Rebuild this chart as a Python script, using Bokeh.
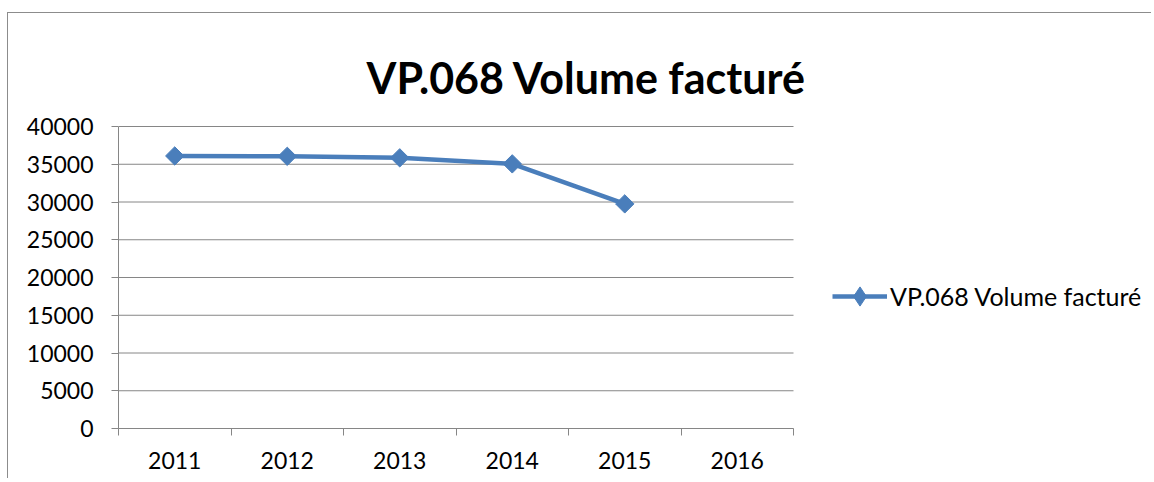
from bokeh.plotting import figure
from bokeh.models import (Range1d, FixedTicker, LinearAxis, Legend, LegendItem, Label,
                          NumeralTickFormatter, InlineStyleSheet)
from bokeh.embed import file_html
from bokeh.resources import INLINE
import math

# ---- data ----
categories = ["2011", "2012", "2013", "2014", "2015", "2016"]
series_name = "VP.068 Volume facturé"
values = [36100, 36050, 35850, 35050, 29750]
y_ticks = [0, 5000, 10000, 15000, 20000, 25000, 30000, 35000, 40000]

FONT = "Lato"
GRAY = "#868686"
BLUE = "#4A7EBB"

# ---- layout (pixels) ----
W, H = 1144, 466
LEFT = 110            # plot-area left edge inside canvas
PLOT_W = 675          # width of the category plot area
PLOT_TOP = 113        # top of plot area (y = 40000)
PLOT_BOTTOM = 415     # bottom of plot area (y = 0)
PLOT_H = PLOT_BOTTOM - PLOT_TOP

n_cat = len(categories)
y_max = y_ticks[-1]
# frame covers the whole area right of / above the axes, so that the title
# and the legend can be drawn inside it; the category area keeps its size
x_end = n_cat * (W - LEFT) / PLOT_W
y_end = y_max * PLOT_BOTTOM / PLOT_H

xs = [i + 0.5 for i in range(len(values))]

p = figure(width=W, height=H, output_backend="svg", toolbar_location=None,
           x_range=Range1d(0, x_end), y_range=Range1d(0, y_end),
           x_axis_type=None, y_axis_type=None,
           min_border_left=LEFT, min_border_right=0, min_border_top=0,
           min_border_bottom=H - PLOT_BOTTOM)
p.outline_line_color = None
p.background_fill_color = "white"
p.border_fill_color = "white"
p.stylesheets = [InlineStyleSheet(css=":host { border-left: 1px solid #8c8c8c; border-top: 1px solid #8c8c8c; margin-left: 7px; margin-top: 12px; }")]

# y axis
yaxis = LinearAxis(ticker=FixedTicker(ticks=y_ticks), formatter=NumeralTickFormatter(format="0"),
                   bounds=(0, y_max))
yaxis.axis_line_color = GRAY
yaxis.major_tick_line_color = GRAY
yaxis.major_tick_out = 7
yaxis.major_tick_in = 0
yaxis.minor_tick_line_color = None
yaxis.major_label_text_font = FONT
yaxis.major_label_text_font_size = "23px"
yaxis.major_label_text_color = "black"
yaxis.major_label_standoff = 18
p.add_layout(yaxis, "left")

# x axis: labels at category centres, ticks at category boundaries
xaxis = LinearAxis(ticker=FixedTicker(ticks=[i + 0.5 for i in range(n_cat)],
                                      minor_ticks=list(range(n_cat + 1))),
                   bounds=(0, n_cat))
xaxis.major_label_overrides = {i + 0.5: c for i, c in enumerate(categories)}
xaxis.axis_line_color = GRAY
xaxis.major_tick_line_color = None
xaxis.major_tick_out = 0
xaxis.major_tick_in = 0
xaxis.minor_tick_line_color = GRAY
xaxis.minor_tick_out = 7
xaxis.minor_tick_in = 0
xaxis.major_label_text_font = FONT
xaxis.major_label_text_font_size = "23px"
xaxis.major_label_text_color = "black"
xaxis.major_label_standoff = 16
p.add_layout(xaxis, "below")

# horizontal gridlines limited to the category area
p.segment(x0=[0] * len(y_ticks), x1=[n_cat] * len(y_ticks), y0=y_ticks, y1=y_ticks,
          line_color=GRAY, line_width=1)

ln = p.line(xs, values, line_color=BLUE, line_width=4.5, line_join="round")
mk = p.scatter(xs, values, marker="square", angle=math.pi / 4, size=13,
               fill_color=BLUE, line_color=BLUE)
# hidden diamond renderer, used only for the legend symbol
lg_mk = p.scatter(xs, values, marker="diamond", size=16, fill_color=BLUE, line_color=BLUE,
                  visible=False)

title = Label(x=4.16, y=46500, text=series_name, text_font=FONT, text_font_style="bold",
              text_font_size="43px", text_align="center", text_baseline="alphabetic",
              text_color="black")
p.add_layout(title)

legend = Legend(items=[LegendItem(label=series_name, renderers=[ln, lg_mk])],
                location=(714, 108), padding=0, margin=0, border_line_color=None,
                background_fill_alpha=0, glyph_width=55, glyph_height=48,
                label_standoff=3, label_text_font=FONT, label_text_font_size="25px",
                label_text_color="black", inactive_fill_alpha=0)
p.add_layout(legend, "center")

open("out.html", "w").write(file_html(p, INLINE))
